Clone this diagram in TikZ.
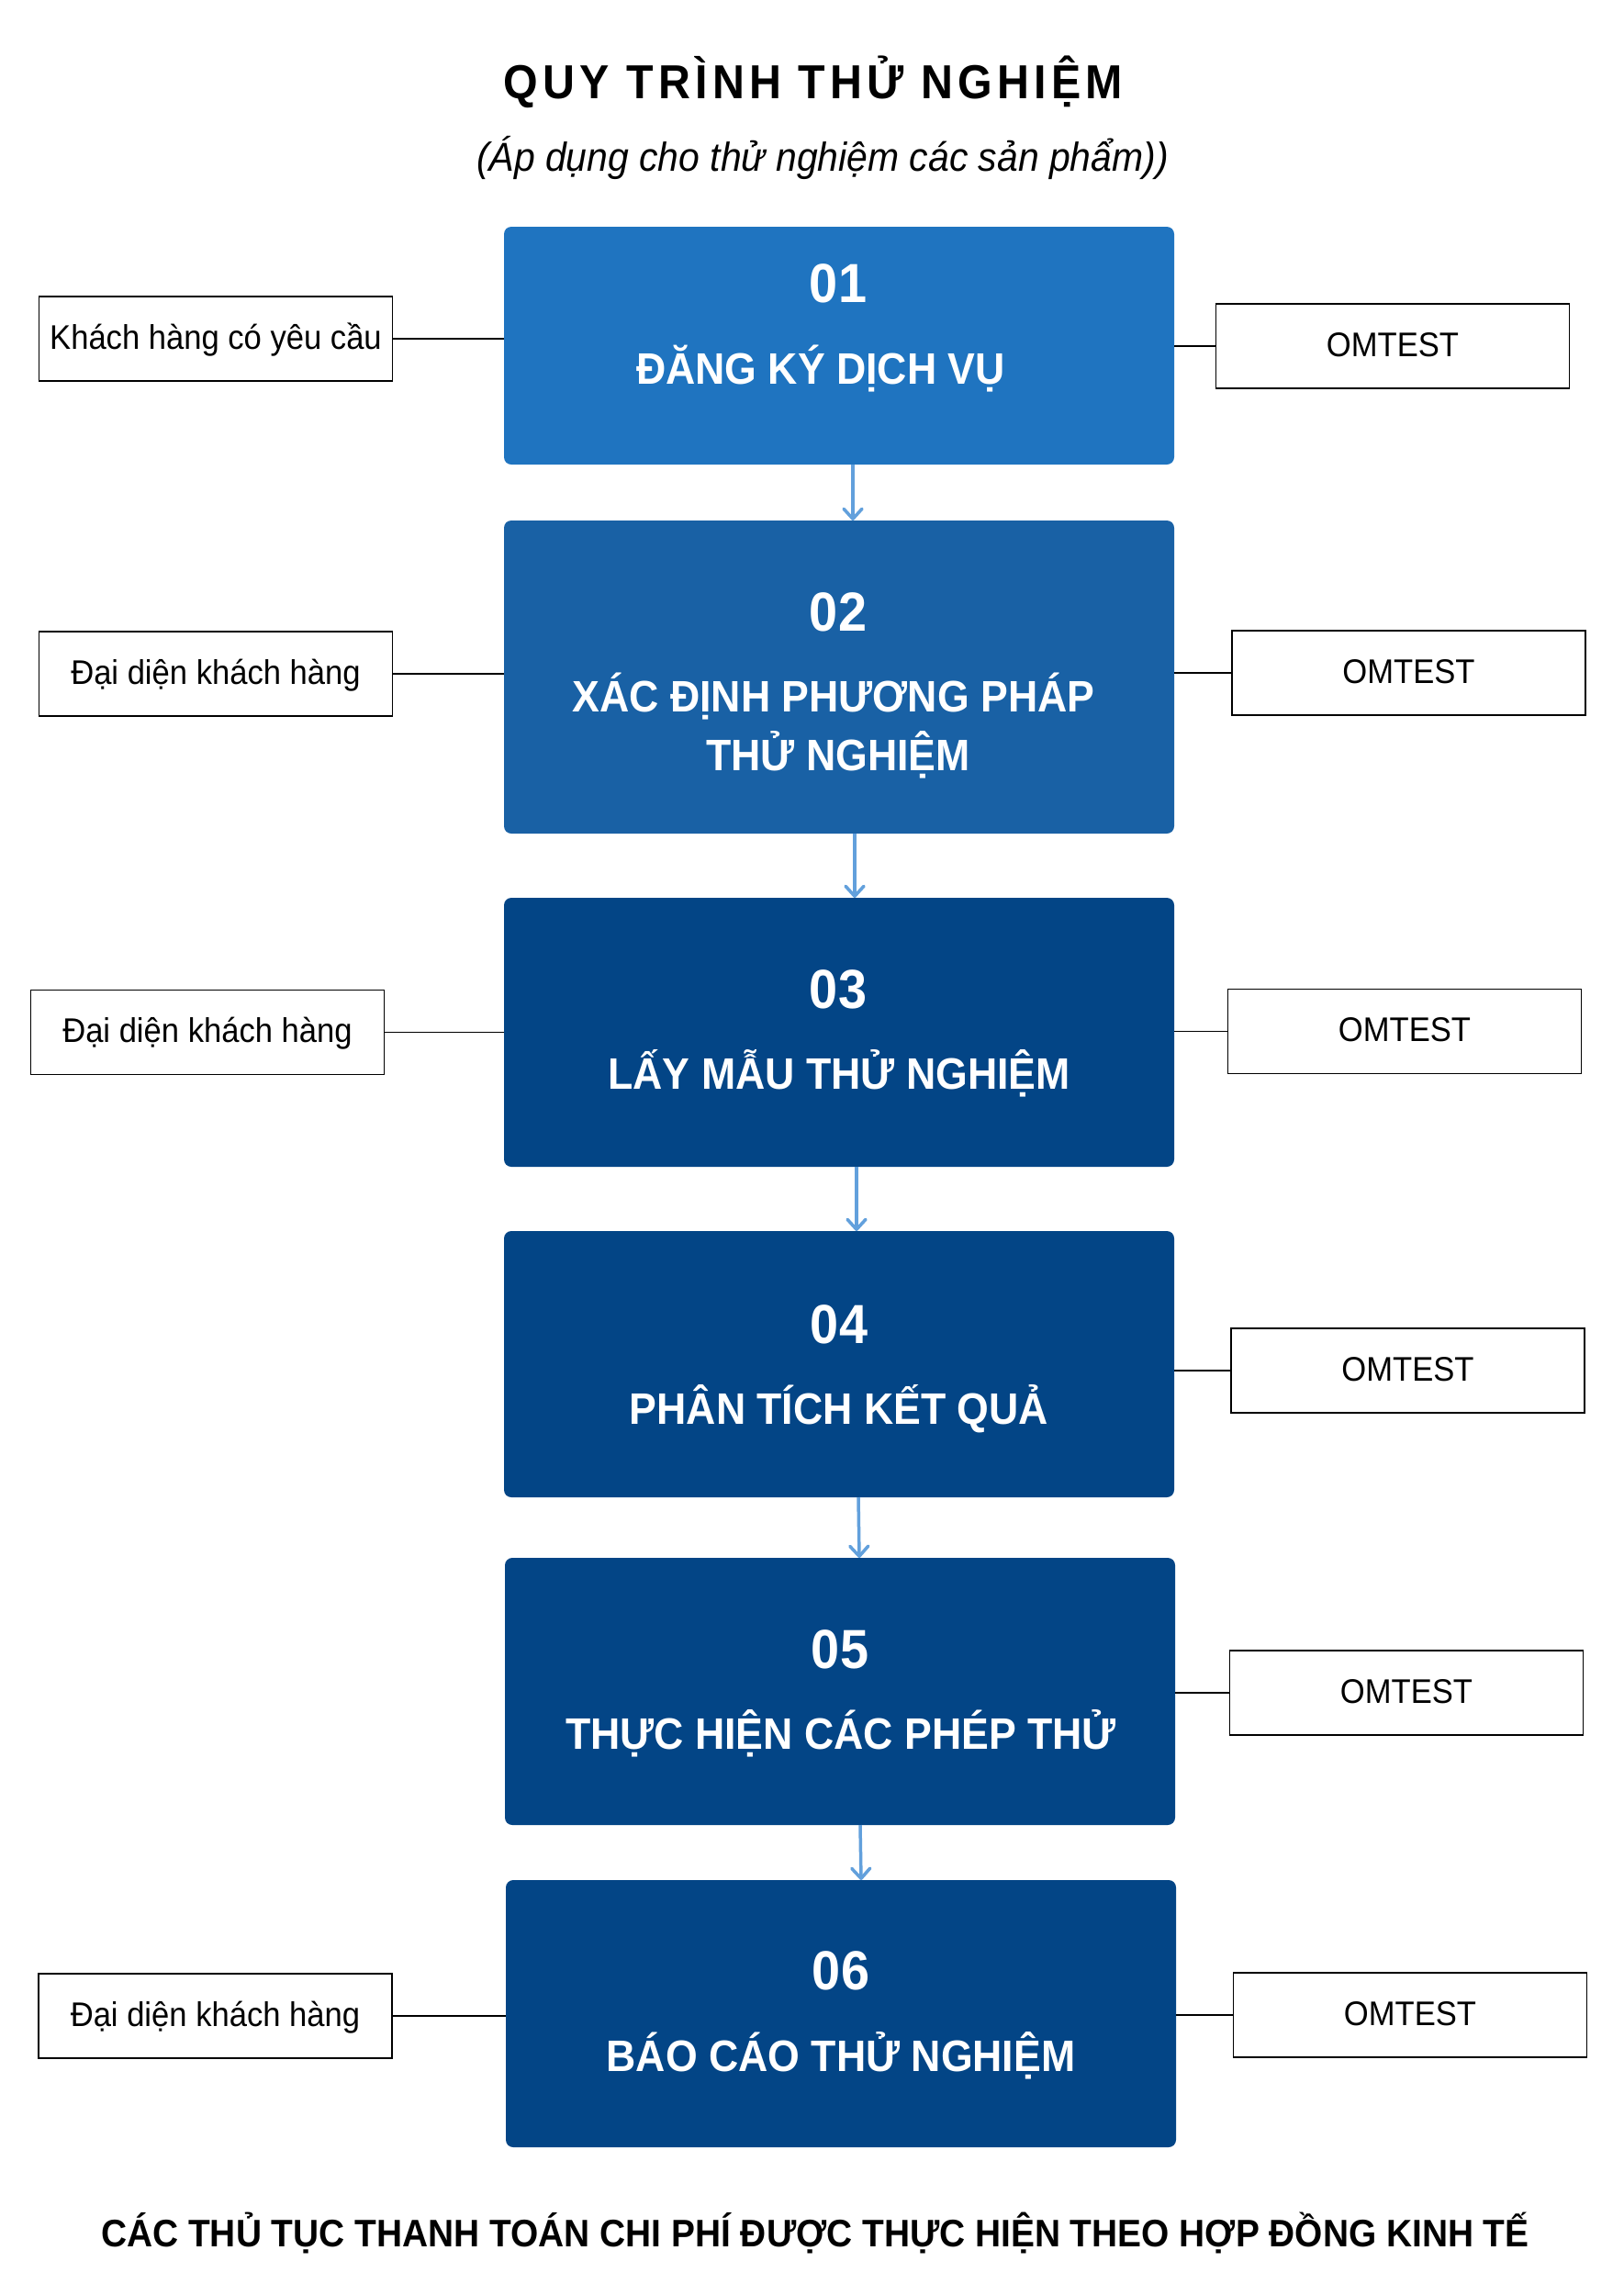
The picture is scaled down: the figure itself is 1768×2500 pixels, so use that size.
\documentclass[tikz,border=0pt]{standalone}
\usepackage{fontspec}
\setmainfont{Liberation Sans}[FakeStretch=0.93]
\usetikzlibrary{arrows.meta}
\definecolor{bA}{HTML}{1F74C0}
\definecolor{bB}{HTML}{1961A5}
\definecolor{bC}{HTML}{034586}
\definecolor{arr}{HTML}{62A0DC}
\tikzset{
  mainbox/.style={fill=#1, rounded corners=4pt, inner sep=0pt, outer sep=0pt,
    anchor=north west, minimum width=365pt},
  sidebox/.style={draw=black, line width=0.9pt, inner sep=0pt, outer sep=0pt,
    minimum width=192.5pt, minimum height=46pt,
    font=\fontsize{18.6}{20}\selectfont, text height=13pt, text depth=2pt},
  num/.style={text=white, font=\bfseries\fontsize{30}{36}\selectfont, anchor=base, inner sep=0pt},
  ttl/.style={text=white, font=\bfseries\fontsize{24}{30}\selectfont, anchor=base, inner sep=0pt},
  flow/.style={draw=arr, line width=1.75pt, -{Straight Barb[length=5.5pt,width=10pt,round]}},
  link/.style={draw=black, line width=0.7pt},
}
\begin{document}
\begin{tikzpicture}[x=0.5pt,y=-0.5pt]
\useasboundingbox (0,0) rectangle (1768,2500);
\fill[white] (0,0) rectangle (1768,2500);

% titles
\node[anchor=base, inner sep=0pt, font=\bfseries\fontsize{26}{30}\selectfont\addfontfeature{LetterSpace=10}] (title) at (886,107) {QUY TRÌNH THỬ NGHIỆM};
\node[anchor=base, inner sep=0pt, font=\itshape\fontsize{22}{26}\selectfont] (sub) at (896,186) {(Áp dụng cho thử nghiệm các sản phẩm))};

% main boxes
\node[mainbox=bA, minimum height=129.5pt] (b1) at (549,247) {};
\node[mainbox=bB, minimum height=170.5pt] (b2) at (549,567) {};
\node[mainbox=bC, minimum height=146.5pt] (b3) at (549,978) {};
\node[mainbox=bC, minimum height=145pt]   (b4) at (549,1341) {};
\node[mainbox=bC, minimum height=145.5pt] (b5) at (550,1697) {};
\node[mainbox=bC, minimum height=145.5pt] (b6) at (551,2048) {};

% box texts
\node[num] (n1) at (913,329) {01};
\node[ttl] (t1) at (894,418) {ĐĂNG KÝ DỊCH VỤ};
\node[num] (n2) at (913,687) {02};
\node[ttl] (t2) at (908,775) {XÁC ĐỊNH PHƯƠNG PHÁP};
\node[ttl] (t2b) at (913,839) {THỬ NGHIỆM};
\node[num] (n3) at (913,1098) {03};
\node[ttl] (t3) at (914,1186) {LẤY MẪU THỬ NGHIỆM};
\node[num] (n4) at (914,1463) {04};
\node[ttl] (t4) at (914,1551) {PHÂN TÍCH KẾT QUẢ};
\node[num] (n5) at (915,1817) {05};
\node[ttl] (t5) at (916,1905) {THỰC HIỆN CÁC PHÉP THỬ};
\node[num] (n6) at (916,2167) {06};
\node[ttl] (t6) at (916,2256) {BÁO CÁO THỬ NGHIỆM};

% flow arrows
\draw[flow] ([xshift=7.5pt]b1.south) -- ([xshift=7.5pt]b2.north);
\draw[flow] ([xshift=8.5pt]b2.south) -- ([xshift=8.5pt]b3.north);
\draw[flow] ([xshift=9.5pt]b3.south) -- ([xshift=9.5pt]b4.north);
\draw[flow] ([xshift=10.5pt]b4.south) -- ([xshift=10.5pt]b5.north);
\draw[flow] ([xshift=11pt]b5.south) -- ([xshift=11pt]b6.north);

% side boxes
\node[sidebox] (l1) at (235,369) {Khách hàng có yêu cầu};
\node[sidebox] (l2) at (235,734) {Đại diện khách hàng};
\node[sidebox] (l3) at (226,1124.5) {Đại diện khách hàng};
\node[sidebox] (l6) at (234.5,2196) {Đại diện khách hàng};
\node[sidebox] (r1) at (1517,377) {OMTEST};
\node[sidebox] (r2) at (1534.5,733) {OMTEST};
\node[sidebox] (r3) at (1530,1123.5) {OMTEST};
\node[sidebox] (r4) at (1533.5,1493) {OMTEST};
\node[sidebox] (r5) at (1532,1844) {OMTEST};
\node[sidebox] (r6) at (1536,2195) {OMTEST};

% links
\draw[link] (l1.east) -- (l1.east -| b1.west);
\draw[link] (l2.east) -- (l2.east -| b2.west);
\draw[link] (l3.east) -- (l3.east -| b3.west);
\draw[link] (l6.east) -- (l6.east -| b6.west);
\draw[link] (b1.east |- r1.west) -- (r1.west);
\draw[link] (b2.east |- r2.west) -- (r2.west);
\draw[link] (b3.east |- r3.west) -- (r3.west);
\draw[link] (b4.east |- r4.west) -- (r4.west);
\draw[link] (b5.east |- r5.west) -- (r5.west);
\draw[link] (b6.east |- r6.west) -- (r6.west);

% footer
\node[anchor=base, inner sep=0pt, font=\bfseries\fontsize{20.9}{24}\selectfont] (foot) at (888,2447) {CÁC THỦ TỤC THANH TOÁN CHI PHÍ ĐƯỢC THỰC HIỆN THEO HỢP ĐỒNG KINH TẾ};
\end{tikzpicture}
\end{document}
